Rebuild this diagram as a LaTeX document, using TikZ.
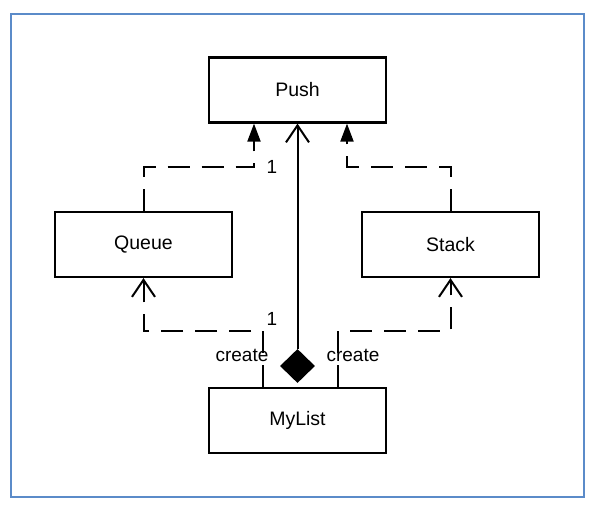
\documentclass[tikz,border=0pt]{standalone}
\usepackage{fontspec}
\setmainfont{Liberation Sans}
\usetikzlibrary{arrows.meta,shapes.geometric}
\definecolor{framecol}{HTML}{5B8BC9}
\begin{document}
\begin{tikzpicture}[x=1pt,y=-1pt,
  cls/.style={draw=black,line width=2.2pt,minimum width=177pt,minimum height=65pt,inner sep=0pt,font=\fontsize{19.5}{22}\selectfont},
  lbl/.style={inner sep=0pt,font=\fontsize{19}{22}\selectfont},
  dashln/.style={line width=2pt,dash pattern=on 22pt off 12pt},
  impl/.style={dashln,-{Triangle[length=18pt,width=13pt]}},
  dep/.style={dashln,-{Straight Barb[length=17pt,width=23pt,line width=2pt]}},
  assoc/.style={line width=2pt,-{Straight Barb[length=17pt,width=23pt,line width=2pt]}}]
\useasboundingbox (0,0) rectangle (595,510);
\draw[framecol,line width=1.6pt] (11,14) rectangle (584,497);

\node[cls] (push) at (297.5,90) {Push};
\node[cls] (queue) at (143.5,244.5) {Queue};
\node[cls] (stack) at (450.5,244.5) {Stack};
\node[cls] (mylist) at (297.5,420.5) {MyList};
\node[diamond,fill=black,draw=none,inner sep=0pt,minimum width=35pt,minimum height=34pt] (dia) at (297.5,366) {};

\draw[impl] (queue.north) -- ++(0,-44) -| ([xshift=-43.5pt]push.south);
\draw[impl] (stack.north) -- ++(0,-44) -| ([xshift=49.5pt]push.south);
\draw[assoc] (dia.north) -- (push.south);
\draw[dep] ([xshift=-34.5pt]mylist.north) -- ++(0,-56) -| (queue.south);
\draw[dep] ([xshift=40.5pt]mylist.north) -- ++(0,-56) -| (stack.south);

\node[lbl] (one1) at (272,167) {1};
\node[lbl] (one2) at (272,319) {1};
\node[lbl] (cr1) at (242,355) {create};
\node[lbl] (cr2) at (353,355) {create};
\end{tikzpicture}
\end{document}
